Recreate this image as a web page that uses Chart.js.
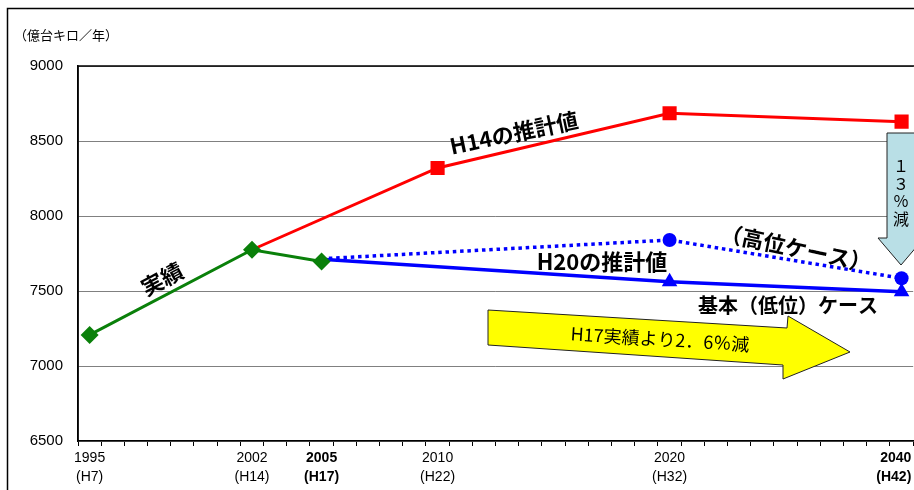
<!DOCTYPE html>
<html>
<head>
<meta charset="utf-8">
<script src="https://cdn.jsdelivr.net/npm/chart.js@4"></script>
<style>
  html, body { margin: 0; padding: 0; background: #fff; overflow: hidden; }
  #wrap { width: 929px; height: 490px; }
</style>
</head>
<body>
<div id="wrap"><canvas id="chart" width="929" height="490"></canvas></div>
<script>
// カテゴリ（年）
const categories = [
    '1995', '1996', '1997', '1998', '1999', '2000', '2001', '2002', '2003', '2004',
    '2005', '2006', '2007', '2008', '2009', '2010', '2011', '2012', '2013', '2014',
    '2015', '2016', '2017', '2018', '2019', '2020',
    '2022', '2024', '2026', '2028', '2030', '2032', '2034', '2036', '2038', '2040'
];
// 右端のラベルは枠に収まるよう少し左へ寄せる（末尾の空白）
const tickLabels = {
    '1995': ['1995', '(H7)'],
    '2002': ['2002', '(H14)'],
    '2005': ['2005', '(H17)'],
    '2010': ['2010', '(H22)'],
    '2020': ['2020', '(H32)'],
    '2040': ['2040   ', '(H42)    ']
};
const boldTicks = ['2005', '2040'];
const yMin = 6500;
const yMax = 9000;
const yStep = 500;

// 実績
const actualYears = ['1995', '2002', '2005'];
const actualValues = [7207, 7775, 7697];
// H14の推計値
const h14Years = ['2002', '2010', '2020', '2040'];
const h14Values = [7775, 8320, 8685, 8629];
// H20 高位ケース
const highYears = ['2005', '2020', '2040'];
const highValues = [7715, 7840, 7585];
// H20 基本（低位）ケース
const baseYears = ['2005', '2020', '2040'];
const baseValues = [7712, 7562, 7495];

const toPoints = (years, values) => years.map((y, i) => ({ x: y, y: values[i] }));
const firstHidden = (n, r) => Array.from({ length: n }, (_, i) => (i === 0 ? 0 : r));

const JP = '"Noto Sans CJK JP", sans-serif';

function drawLabel(ctx, text, x, y, deg, font) {
    ctx.save();
    ctx.translate(x, y);
    ctx.rotate(deg * Math.PI / 180);
    ctx.font = font;
    ctx.fillStyle = '#000';
    ctx.textAlign = 'center';
    ctx.textBaseline = 'middle';
    ctx.fillText(text, 0, 0);
    ctx.restore();
}

function polygon(ctx, pts, fill) {
    ctx.beginPath();
    pts.forEach((p, i) => (i ? ctx.lineTo(p[0], p[1]) : ctx.moveTo(p[0], p[1])));
    ctx.closePath();
    ctx.fillStyle = fill;
    ctx.fill();
    ctx.strokeStyle = '#222';
    ctx.lineWidth = 1;
    ctx.stroke();
}

const decorations = {
    id: 'decorations',
    beforeDraw(chart) {
        const ctx = chart.ctx;
        ctx.save();
        ctx.fillStyle = '#fff';
        ctx.fillRect(0, 0, chart.width, chart.height);
        ctx.strokeStyle = '#000';
        ctx.lineWidth = 1.5;
        ctx.strokeRect(7.5, 8.5, 2000, 2000);
        ctx.font = '13px ' + JP;
        ctx.fillStyle = '#000';
        ctx.textBaseline = 'middle';
        ctx.fillText('（億台キロ／年）', 14, 35);
        ctx.restore();
    },
    beforeDatasetsDraw(chart) {
        const { ctx, chartArea: a } = chart;
        ctx.save();
        ctx.strokeStyle = '#000';
        ctx.lineWidth = 1.5;
        ctx.beginPath();
        ctx.moveTo(a.left, a.bottom);
        ctx.lineTo(a.left, a.top);
        ctx.lineTo(a.right + 5, a.top);
        ctx.stroke();
        ctx.restore();
    },
    afterDatasetsDraw(chart) {
        const ctx = chart.ctx;
        ctx.save();
        // 黄色の矢印
        polygon(ctx, [[488, 310], [787, 328], [788, 316], [850, 352], [783, 379], [783, 365], [488, 345]], '#ffff00');
        ctx.save();
        ctx.translate(660, 339);
        ctx.rotate(3.5 * Math.PI / 180);
        ctx.font = '18px ' + JP;
        ctx.fillStyle = '#000';
        ctx.textAlign = 'center';
        ctx.textBaseline = 'middle';
        ctx.fillText('H17実績より2．6％減', 0, 0);
        ctx.restore();

        // 水色の矢印
        polygon(ctx, [[887, 133], [915, 133], [915, 238], [924, 238], [901, 265], [878, 238], [887, 238]], '#b9dfe6');
        ctx.font = '16px ' + JP;
        ctx.fillStyle = '#000';
        ctx.textAlign = 'center';
        ctx.textBaseline = 'middle';
        ['１', '３', '％', '減'].forEach((ch, i) => ctx.fillText(ch, 901, 166 + i * 17.5));

        // 系列ラベル
        const bold = 'bold 22px ' + JP;
        drawLabel(ctx, '実績', 162, 279, -28, bold);
        drawLabel(ctx, 'H14の推計値', 514, 133, -12, bold);
        drawLabel(ctx, 'H20の推計値', 602, 262, 0, bold);
        drawLabel(ctx, '（高位ケース）', 796, 248, 12, bold);
        drawLabel(ctx, '基本（低位）ケース', 788, 305, 0, 'bold 20px ' + JP);
        ctx.restore();
    }
};

new Chart(document.getElementById('chart'), {
    type: 'line',
    data: {
        labels: categories,
        datasets: [
            {
                label: '実績',
                data: toPoints(actualYears, actualValues),
                borderColor: '#0a800a',
                backgroundColor: '#0a800a',
                borderWidth: 3,
                pointStyle: 'rectRot',
                pointRadius: 9,
                pointBorderWidth: 0
            },
            {
                label: 'H14の推計値',
                data: toPoints(h14Years, h14Values),
                borderColor: '#ff0000',
                backgroundColor: '#ff0000',
                borderWidth: 3,
                pointStyle: 'rect',
                pointRadius: firstHidden(h14Years.length, 10),
                pointBorderWidth: 0
            },
            {
                label: '高位ケース',
                data: toPoints(highYears, highValues),
                borderColor: '#0000ff',
                backgroundColor: '#0000ff',
                borderWidth: 3.5,
                borderDash: [3.5, 3.8],
                pointStyle: 'circle',
                pointRadius: firstHidden(highYears.length, 7),
                pointBorderWidth: 0
            },
            {
                label: '基本（低位）ケース',
                data: toPoints(baseYears, baseValues),
                borderColor: '#0000ff',
                backgroundColor: '#0000ff',
                borderWidth: 3.5,
                pointStyle: 'triangle',
                pointRadius: firstHidden(baseYears.length, 9),
                pointBorderWidth: 0
            }
        ]
    },
    options: {
        responsive: false,
        animation: false,
        devicePixelRatio: 1,
        layout: { padding: { top: 66, left: 0, right: 0, bottom: 0 } },
        plugins: {
            legend: { display: false },
            tooltip: { enabled: false }
        },
        scales: {
            x: {
                type: 'category',
                offset: true,
                afterFit: (scale) => { scale.height = 49; },
                grid: {
                    display: true,
                    drawOnChartArea: false,
                    drawTicks: true,
                    tickLength: 5,
                    offset: true,
                    color: '#000'
                },
                border: { display: true, color: '#000', width: 1.5 },
                ticks: {
                    autoSkip: false,
                    maxRotation: 0,
                    padding: 2,
                    color: '#000',
                    callback: (value, index) => tickLabels[categories[index]] || '',
                    font: (ctx) => ({
                        family: '"Liberation Sans", Arial, sans-serif',
                        size: 14,
                        weight: boldTicks.includes(categories[ctx.index]) ? 'bold' : 'normal',
                        lineHeight: 1.4
                    })
                }
            },
            y: {
                min: yMin,
                max: yMax,
                afterFit: (scale) => { scale.width = 78; },
                grid: {
                    color: '#808080',
                    lineWidth: 1,
                    drawTicks: false
                },
                border: { display: true, color: '#000', width: 1.5 },
                ticks: {
                    stepSize: yStep,
                    padding: 15,
                    color: '#000',
                    callback: (value) => String(value),
                    font: { family: '"Liberation Sans", Arial, sans-serif', size: 15 }
                }
            }
        }
    },
    plugins: [decorations]
});
</script>
</body>
</html>
